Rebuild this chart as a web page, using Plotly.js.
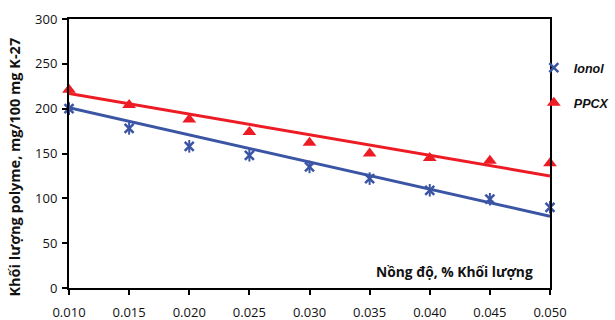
<!DOCTYPE html>
<html><head><meta charset="utf-8">
<script src="https://cdn.plot.ly/plotly-3.0.1.min.js"></script>
<style>body{margin:0;background:#fff}#c{width:615px;height:320px}</style>
</head><body><div id="c"></div>
<script>
const concentration = [0.010, 0.015, 0.020, 0.025, 0.030, 0.035, 0.040, 0.045, 0.050];
const ionol = [200, 178, 158, 148, 135, 122, 109, 99, 90];
const ppcx = [221, 204, 188, 174, 162, 150, 145, 142, 139];
const trendX = [0.010, 0.050];
const ionolTrend = [201, 80];
const ppcxTrend = [217, 125];
const xTicks = [0.010, 0.015, 0.020, 0.025, 0.030, 0.035, 0.040, 0.045, 0.050];
const xTickText = ["0.010", "0.015", "0.020", "0.025", "0.030", "0.035", "0.040", "0.045", "0.050"];
const yTicks = [0, 50, 100, 150, 200, 250, 300];

const BLUE = '#3b55a5', RED = '#ed1c24';
const font = 'Open Sans, Noto Sans, sans-serif';
const legFont = {family: 'Liberation Sans, Arial, sans-serif', size: 12.5, color: '#111', weight: 'bold', style: 'italic'};

const data = [
  {x: trendX, y: ionolTrend, mode: 'lines', line: {color: BLUE, width: 3}, showlegend: false, hoverinfo: 'skip'},
  {x: trendX, y: ppcxTrend, mode: 'lines', line: {color: RED, width: 3}, showlegend: false, hoverinfo: 'skip'},
  {x: concentration, y: ionol, mode: 'markers', name: 'Ionol', legend: 'legend',
   marker: {symbol: 'x-thin-open', size: 9, color: BLUE, line: {color: BLUE, width: 2.5}}, cliponaxis: false},
  {x: concentration, y: ionol, mode: 'markers', showlegend: false,
   marker: {symbol: 'line-ns-open', size: 9, color: BLUE, line: {color: BLUE, width: 2}}, cliponaxis: false},
  {x: concentration, y: ppcx, mode: 'markers', name: 'PPCX', legend: 'legend2',
   marker: {symbol: 'triangle-up', size: 12, color: RED, line: {width: 0}}, cliponaxis: false}
];

const layout = {
  width: 615, height: 320,
  margin: {l: 69, r: 65, t: 19, b: 32, autoexpand: false},
  paper_bgcolor: '#fff', plot_bgcolor: '#fff',
  font: {family: font, size: 13, color: '#111'},
  xaxis: {range: [0.010, 0.050], tickvals: xTicks, ticktext: xTickText,
    showgrid: false, zeroline: false, showline: true, linecolor: '#000', linewidth: 2, mirror: true,
    ticks: 'outside', ticklen: 5, tickwidth: 2, tickcolor: '#000', ticklabelstandoff: 6,
    tickfont: {family: font, size: 13, color: '#111'}},
  yaxis: {range: [0, 300], tickvals: yTicks,
    showgrid: false, zeroline: false, showline: true, linecolor: '#000', linewidth: 2, mirror: true,
    ticks: 'outside', ticklen: 5, tickwidth: 2, tickcolor: '#000', ticklabelstandoff: 2,
    tickfont: {family: font, size: 13, color: '#111'}},
  legend: {xref: 'container', yref: 'container', x: 0.868, y: 0.7875, xanchor: 'left', yanchor: 'middle',
    bgcolor: 'rgba(0,0,0,0)', font: legFont, itemwidth: 30, tracegroupgap: 0},
  legend2: {xref: 'container', yref: 'container', x: 0.868, y: 0.678, xanchor: 'left', yanchor: 'middle',
    bgcolor: 'rgba(0,0,0,0)', font: legFont, itemwidth: 30, tracegroupgap: 0},
  annotations: [
    {xref: 'paper', yref: 'paper', x: 0.969, y: 0.06, xanchor: 'right', yanchor: 'middle', showarrow: false,
     text: '<b>Nồng độ, % Khối lượng</b>', font: {family: font, size: 13.8, color: '#111'}},
    {xref: 'paper', yref: 'paper', x: -0.113, y: 0.45, xanchor: 'center', yanchor: 'middle', showarrow: false,
     textangle: -90, text: '<b>Khối lượng polyme, mg/100 mg K-27</b>', font: {family: font, size: 14.5, color: '#111'}}
  ]
};

Plotly.newPlot('c', data, layout, {displayModeBar: false, staticPlot: true});
</script></body></html>
